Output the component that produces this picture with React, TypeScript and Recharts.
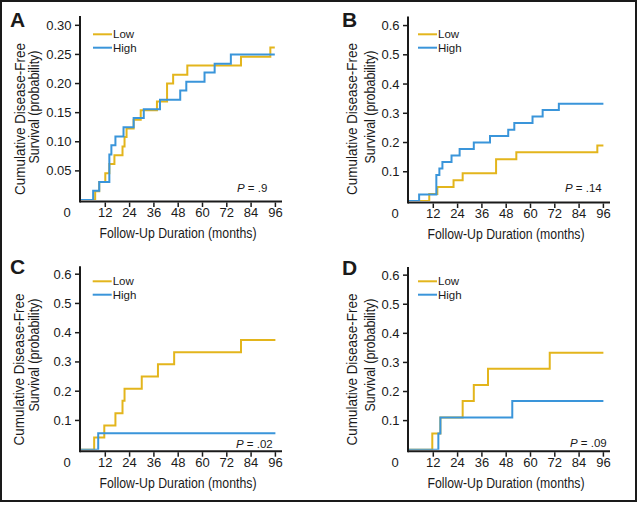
import { LineChart, Line, XAxis, YAxis } from "recharts";

const LOW_COLOR = "#E3B51C";
const HIGH_COLOR = "#3A95DA";
const INK = "#1a1a1a";
const FONT = "'Liberation Sans', Arial, sans-serif";

const xTicks = [0, 12, 24, 36, 48, 60, 72, 84, 96];
const yTicksA = [0.05, 0.1, 0.15, 0.2, 0.25, 0.3];
const yTicksOther = [0.1, 0.2, 0.3, 0.4, 0.5, 0.6];

// panel A
const lowAMonths = [0, 7, 9, 12, 14, 16.5, 20.5, 21.5, 22.5, 26, 29.5, 37.5, 42.5, 45.5, 52.5, 79, 93.5, 95.7];
const lowAValues = [0, 0.015, 0.031, 0.046, 0.062, 0.077, 0.092, 0.108, 0.123, 0.138, 0.154, 0.169, 0.2, 0.215, 0.231, 0.246, 0.262, 0.262];
const highAMonths = [0, 6, 9, 14, 15, 17, 21, 26, 31, 39, 49, 52, 61, 66, 74, 95.7];
const highAValues = [0, 0.016, 0.031, 0.078, 0.094, 0.109, 0.125, 0.141, 0.156, 0.172, 0.188, 0.203, 0.219, 0.234, 0.25, 0.25];

// panel B
const lowBMonths = [0, 10, 14, 22, 26.5, 43, 53, 93, 96];
const lowBValues = [0, 0.024, 0.048, 0.071, 0.095, 0.143, 0.167, 0.19, 0.19];
const highBMonths = [0, 5, 13.5, 15, 16.5, 21, 25, 32, 40, 49, 52, 61, 66, 74, 96];
const highBValues = [0, 0.022, 0.089, 0.111, 0.133, 0.156, 0.178, 0.2, 0.222, 0.244, 0.267, 0.289, 0.311, 0.333, 0.333];

// panel C
const lowCMonths = [0, 6.5, 11.5, 17, 20.5, 21.5, 30, 38, 46, 79, 96];
const lowCValues = [0, 0.042, 0.083, 0.125, 0.167, 0.208, 0.25, 0.292, 0.333, 0.375, 0.375];
const highCMonths = [0, 8.5, 96];
const highCValues = [0, 0.056, 0.056];

// panel D
const lowDMonths = [0, 11.5, 15.5, 26.5, 32, 39, 69.5, 96];
const lowDValues = [0, 0.056, 0.111, 0.167, 0.222, 0.278, 0.333, 0.333];
const highDMonths = [0, 14.5, 15.5, 51, 96];
const highDValues = [0, 0.056, 0.111, 0.167, 0.167];

const toPoints = (months: number[], values: number[]) =>
  months.map((m, i) => ({ m, v: values[i] }));

const XTick = (props: any) => {
  const { x, y, payload } = props;
  const zero = payload.value === 0;
  return (
    <g>
      {!zero && <line x1={x} x2={x} y1={y + 2.5} y2={y + 7} stroke={INK} strokeWidth={1.5} />}
      <text x={zero ? x - 14 : x} y={y + 17} textAnchor="middle" fontSize={13} fill={INK} fontFamily={FONT}>
        {payload.value}
      </text>
    </g>
  );
};

const makeYTick = (digits: number) => (props: any) => {
  const { x, y, payload } = props;
  return (
    <g>
      <line x1={x - 6} x2={x - 1} y1={y} y2={y} stroke={INK} strokeWidth={1.5} />
      <text x={x - 9.5} y={y + 4.5} textAnchor="end" fontSize={13} fill={INK} fontFamily={FONT}>
        {payload.value.toFixed(digits)}
      </text>
    </g>
  );
};

type PanelProps = {
  left: number;
  top: number;
  letter: string;
  letterX: number;
  letterY: number;
  plotLeft: number;
  plotTop: number;
  plotBottom: number;
  plotRight: number;
  yMax: number;
  yTicks: number[];
  digits: number;
  low: { m: number; v: number }[];
  high: { m: number; v: number }[];
  legendX: number;
  legendY: number;
  pText: string;
  pX: number;
  pY: number;
  titleX: number;
  titleY: number;
  yTitleX1: number;
  yTitleX2: number;
  yTitleC1: number;
  yTitleC2: number;
};

const Panel = (p: PanelProps) => {
  const xMax = (p.plotRight - p.plotLeft) / 2.025;
  return (
    <div style={{ position: "absolute", left: p.left, top: p.top, width: 320, height: 253 }}>
      <LineChart
        width={320}
        height={253}
        margin={{ top: p.plotTop, right: 320 - p.plotRight, bottom: 0, left: 0 }}
      >
        <XAxis
          type="number"
          dataKey="m"
          domain={[0, xMax]}
          ticks={xTicks}
          interval={0}
          allowDataOverflow
          height={253 - p.plotBottom}
          tickLine={false}
          tickSize={0}
          tickMargin={0}
          axisLine={false}
          tick={<XTick />}
        />
        <YAxis
          type="number"
          dataKey="v"
          domain={[0, p.yMax]}
          ticks={p.yTicks}
          interval={0}
          allowDataOverflow
          width={p.plotLeft}
          tickLine={false}
          tickSize={0}
          tickMargin={0}
          axisLine={false}
          tick={makeYTick(p.digits)}
        />
        <Line
          data={p.low}
          dataKey="v"
          type="stepAfter"
          stroke={LOW_COLOR}
          strokeWidth={2}
          dot={false}
          isAnimationActive={false}
        />
        <Line
          data={p.high}
          dataKey="v"
          type="stepAfter"
          stroke={HIGH_COLOR}
          strokeWidth={2}
          dot={false}
          isAnimationActive={false}
        />
      </LineChart>
      <svg
        width={320}
        height={253}
        style={{ position: "absolute", left: 0, top: 0, pointerEvents: "none" }}
        fontFamily={FONT}
      >
        {/* axis lines sit just outside the plot so the zero segments stay visible */}
        <line x1={p.plotLeft - 1} x2={p.plotRight} y1={p.plotBottom + 1.5} y2={p.plotBottom + 1.5} stroke={INK} strokeWidth={2} />
        <line x1={p.plotLeft - 1} x2={p.plotLeft - 1} y1={p.plotTop} y2={p.plotBottom + 2.5} stroke={INK} strokeWidth={2} />
        <text x={p.letterX} y={p.letterY} fontSize={21} fontWeight="bold" fill={INK}>
          {p.letter}
        </text>
        <line x1={p.legendX} x2={p.legendX + 19} y1={p.legendY} y2={p.legendY} stroke={LOW_COLOR} strokeWidth={2} />
        <text x={p.legendX + 20} y={p.legendY + 4} fontSize={11.5} fill={INK}>Low</text>
        <line x1={p.legendX} x2={p.legendX + 19} y1={p.legendY + 13.4} y2={p.legendY + 13.4} stroke={HIGH_COLOR} strokeWidth={2} />
        <text x={p.legendX + 20} y={p.legendY + 17.4} fontSize={11.5} fill={INK}>High</text>
        <text x={p.pX} y={p.pY} fontSize={11.5} fill={INK}>
          <tspan fontStyle="italic">P</tspan> = {p.pText}
        </text>
        <text
          x={p.titleX}
          y={p.titleY}
          textAnchor="middle"
          fontSize={14}
          fill={INK}
          textLength={157}
          lengthAdjust="spacingAndGlyphs"
        >
          Follow-Up Duration (months)
        </text>
        <text
          transform={`translate(${p.yTitleX1},${p.yTitleC1}) rotate(-90)`}
          textAnchor="middle"
          dominantBaseline="central"
          fontSize={14}
          fill={INK}
          textLength={152}
          lengthAdjust="spacingAndGlyphs"
        >
          Cumulative Disease-Free
        </text>
        <text
          transform={`translate(${p.yTitleX2},${p.yTitleC2}) rotate(-90)`}
          textAnchor="middle"
          dominantBaseline="central"
          fontSize={14}
          fill={INK}
          textLength={113}
          lengthAdjust="spacingAndGlyphs"
        >
          Survival (probability)
        </text>
      </svg>
    </div>
  );
};

export default function App() {
  return (
    <div style={{ position: "absolute", left: 0, top: 0, width: 640, height: 506, background: "#fff" }}>
      <div
        style={{
          position: "absolute",
          left: 0,
          top: 0,
          width: 637,
          height: 502,
          border: `2px solid ${INK}`,
          boxSizing: "border-box",
        }}
      />
      <Panel
        left={0}
        top={0}
        letter="A"
        letterX={10}
        letterY={27}
        plotLeft={81}
        plotTop={16}
        plotBottom={200}
        plotRight={282}
        yMax={0.316}
        yTicks={yTicksA}
        digits={2}
        low={toPoints(lowAMonths, lowAValues)}
        high={toPoints(highAMonths, highAValues)}
        legendX={93}
        legendY={34.3}
        pText=".9"
        pX={237}
        pY={192}
        titleX={178}
        titleY={238}
        yTitleX1={20}
        yTitleX2={33.5}
        yTitleC1={119}
        yTitleC2={107}
      />
      <Panel
        left={320}
        top={0}
        letter="B"
        letterX={22}
        letterY={27}
        plotLeft={89}
        plotTop={16.5}
        plotBottom={201}
        plotRight={290}
        yMax={0.631}
        yTicks={yTicksOther}
        digits={1}
        low={toPoints(lowBMonths, lowBValues)}
        high={toPoints(highBMonths, highBValues)}
        legendX={98}
        legendY={34.3}
        pText=".14"
        pX={245}
        pY={192}
        titleX={186}
        titleY={239}
        yTitleX1={32}
        yTitleX2={50}
        yTitleC1={119}
        yTitleC2={107}
      />
      <Panel
        left={0}
        top={253}
        letter="C"
        letterX={10}
        letterY={20.5}
        plotLeft={81}
        plotTop={13.3}
        plotBottom={196.7}
        plotRight={282}
        yMax={0.627}
        yTicks={yTicksOther}
        digits={1}
        low={toPoints(lowCMonths, lowCValues)}
        high={toPoints(highCMonths, highCValues)}
        legendX={92.7}
        legendY={28.3}
        pText=".02"
        pX={236}
        pY={194.5}
        titleX={178}
        titleY={235}
        yTitleX1={18.5}
        yTitleX2={33.5}
        yTitleC1={116.5}
        yTitleC2={102}
      />
      <Panel
        left={320}
        top={253}
        letter="D"
        letterX={22}
        letterY={21.5}
        plotLeft={89}
        plotTop={14}
        plotBottom={196.7}
        plotRight={290}
        yMax={0.628}
        yTicks={yTicksOther}
        digits={1}
        low={toPoints(lowDMonths, lowDValues)}
        high={toPoints(highDMonths, highDValues)}
        legendX={98}
        legendY={28.3}
        pText=".09"
        pX={250}
        pY={194}
        titleX={186}
        titleY={235}
        yTitleX1={32}
        yTitleX2={50}
        yTitleC1={116.5}
        yTitleC2={102}
      />
    </div>
  );
}
